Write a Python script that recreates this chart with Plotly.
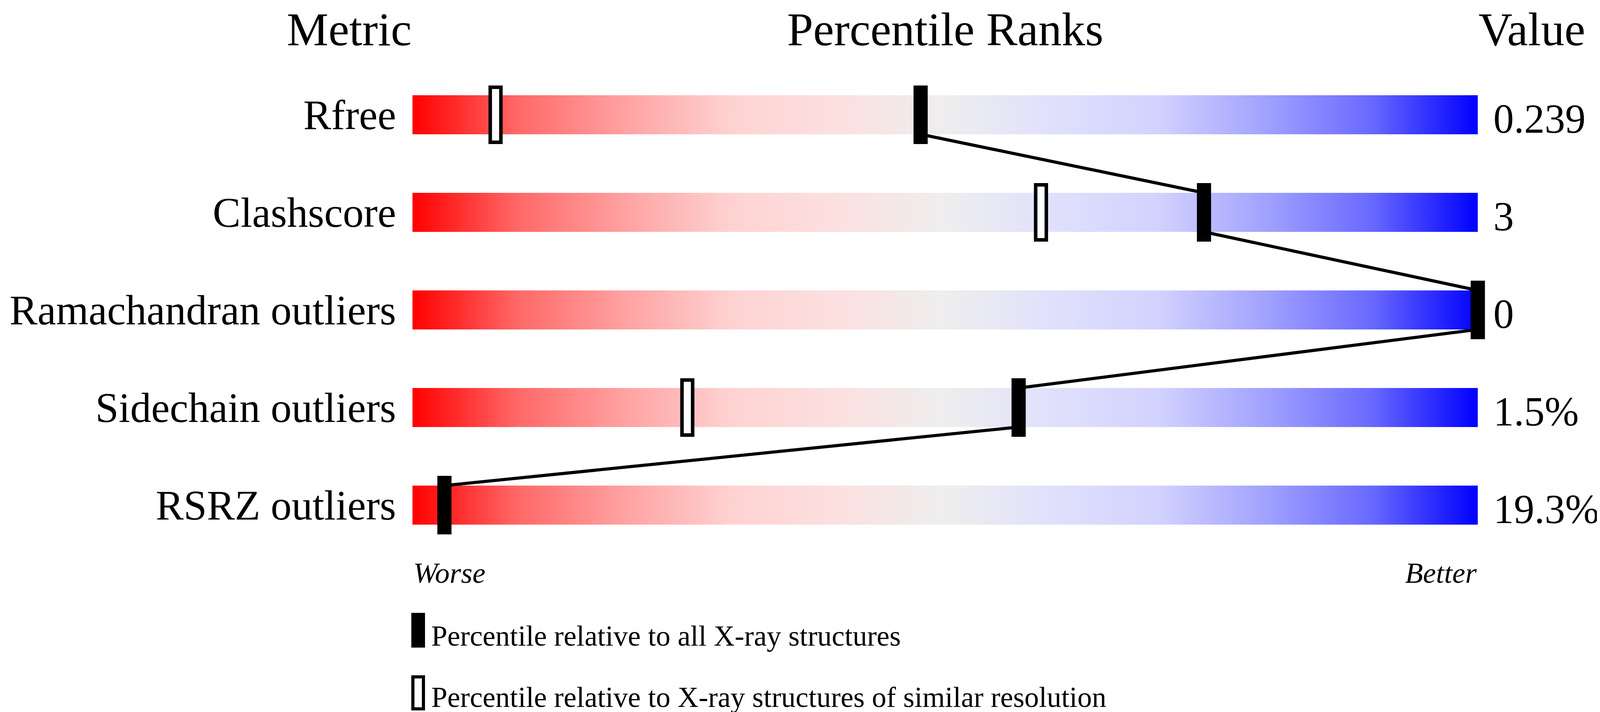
import plotly.graph_objects as go

# percentile slider data
metrics = ["Rfree", "Clashscore", "Ramachandran outliers", "Sidechain outliers", "RSRZ outliers"]
values = ["0.239", "3", "0", "1.5%", "19.3%"]
pct_all = [47.7, 74.3, 100, 56.9, 3.0]          # relative to all X-ray structures
pct_similar = [7.8, 59.0, 100, 25.8, None]      # relative to similar resolution

slider_colors = [
    [0.0, "rgb(255,0,0)"],
    [0.1, "rgb(255,105,105)"],
    [0.2, "rgb(255,162,162)"],
    [0.3, "rgb(255,210,210)"],
    [0.4, "rgb(252,224,224)"],
    [0.5, "rgb(238,238,238)"],
    [0.6, "rgb(224,224,252)"],
    [0.7, "rgb(210,210,255)"],
    [0.8, "rgb(162,162,255)"],
    [0.9, "rgb(105,105,255)"],
    [1.0, "rgb(0,0,255)"],
]

FONT = "Liberation Serif"
W, H = 4096, 1824
ML, MR, MT, MB = 1007, 280, 161, 413
rows = list(range(len(metrics)))
bar_half = 0.2       # half bar height in row units
mk_half_w = 0.50     # marker half width in x units
mk_half_h = 0.282    # marker half height in row units


def px_x(p):
    return (p - ML) / (W - ML - MR)


def px_y(p):
    return (H - MB - p) / (H - MT - MB)


fig = go.Figure()

# gradient bars
for r in rows:
    fig.add_trace(go.Scatter(
        x=[0, 100, 100, 0, 0],
        y=[r - bar_half, r - bar_half, r + bar_half, r + bar_half, r - bar_half],
        mode="lines", line=dict(width=0), fill="toself",
        fillgradient=dict(type="horizontal", colorscale=slider_colors),
        hoverinfo="skip", showlegend=False,
    ))

# line joining the overall percentiles
lx, ly = [], []
for r in rows[:-1]:
    lx += [pct_all[r], pct_all[r + 1], None]
    ly += [r + bar_half, r + 1 - bar_half, None]
fig.add_trace(go.Scatter(x=lx, y=ly, mode="lines", line=dict(color="black", width=8),
                         hoverinfo="skip", showlegend=False))

shapes = []
for r in rows:
    if pct_similar[r] is not None:
        shapes.append(dict(type="rect", xref="x", yref="y", layer="above",
                           x0=pct_similar[r] - mk_half_w, x1=pct_similar[r] + mk_half_w,
                           y0=r - mk_half_h, y1=r + mk_half_h,
                           fillcolor="white", line=dict(color="black", width=9)))
for r in rows:
    shapes.append(dict(type="rect", xref="x", yref="y", layer="above",
                       x0=pct_all[r] - mk_half_w, x1=pct_all[r] + mk_half_w,
                       y0=r - mk_half_h, y1=r + mk_half_h,
                       fillcolor="black", line=dict(color="black", width=9)))

# legend symbols
shapes.append(dict(type="rect", xref="paper", yref="paper",
                   x0=px_x(1045), x1=px_x(1080), y0=px_y(1562), y1=px_y(1651),
                   fillcolor="black", line=dict(width=0)))
shapes.append(dict(type="rect", xref="paper", yref="paper",
                   x0=px_x(1049), x1=px_x(1076), y0=px_y(1726), y1=px_y(1808),
                   fillcolor="white", line=dict(color="black", width=8)))

annotations = [
    dict(text="Metric", x=0, xref="x", xanchor="right", y=px_y(68), yref="paper",
         yanchor="middle", showarrow=False, font=dict(size=120)),
    dict(text="Percentile Ranks", x=50, xref="x", xanchor="center", y=px_y(68), yref="paper",
         yanchor="middle", showarrow=False, font=dict(size=120)),
    dict(text="Value", x=100, xref="x", xanchor="left", y=px_y(68), yref="paper",
         yanchor="middle", showarrow=False, font=dict(size=120)),
    dict(text="<i>Worse</i>", x=0, xref="x", xanchor="left", y=px_y(1459), yref="paper",
         yanchor="middle", showarrow=False, font=dict(size=75)),
    dict(text="<i>Better</i>", x=100, xref="x", xanchor="right", y=px_y(1459), yref="paper",
         yanchor="middle", showarrow=False, font=dict(size=75)),
    dict(text="Percentile relative to all X-ray structures", x=px_x(1094), xref="paper",
         xanchor="left", y=px_y(1621), yref="paper", yanchor="middle", showarrow=False,
         font=dict(size=74)),
    dict(text="Percentile relative to X-ray structures of similar resolution", x=px_x(1094),
         xref="paper", xanchor="left", y=px_y(1778), yref="paper", yanchor="middle",
         showarrow=False, font=dict(size=74)),
]

# value column
for r in rows:
    annotations.append(dict(text=values[r], x=100, xref="x", xanchor="left", xshift=38,
                            y=r, yref="y", yanchor="middle", yshift=-10, showarrow=False,
                            font=dict(size=105)))

fig.update_layout(
    width=W, height=H,
    margin=dict(l=ML, r=MR, t=MT, b=MB),
    paper_bgcolor="white", plot_bgcolor="white",
    font=dict(family=FONT, color="black"),
    xaxis=dict(range=[-1.5, 101.5], visible=False, fixedrange=True),
    yaxis=dict(range=[4.5, -0.5], tickvals=rows, ticktext=metrics, ticks="",
               showgrid=False, zeroline=False, showline=False, automargin=False,
               tickfont=dict(size=107, family=FONT, color="black")),
    shapes=shapes,
    annotations=annotations,
    showlegend=False,
)

fig.write_html("out.html")
